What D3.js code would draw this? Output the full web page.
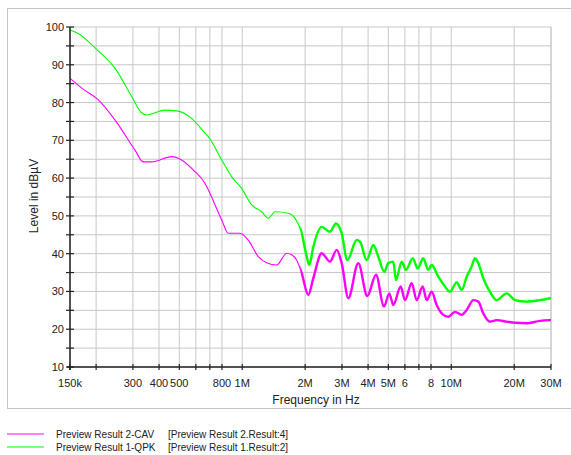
<!DOCTYPE html>
<html>
<head>
<meta charset="utf-8">
<script src="https://cdn.jsdelivr.net/npm/d3@7"></script>
<style>
  body { margin: 0; background: #fff; }
  text { font-family: "Liberation Sans", Arial, sans-serif; fill: #222; }
</style>
</head>
<body>
<div id="chart"></div>
<script>
const FRAME_WIDTH = 571;
const FRAME_HEIGHT = 455;
const PLOT = { left: 70, right: 551, top: 27, bottom: 367 };

// frequencies in MHz, levels in dBuV
const qpkFreq = [0.150, 0.164, 0.201, 0.246, 0.296, 0.330, 0.349, 0.427, 0.486, 0.573,
  0.664, 0.688, 0.798, 0.890, 0.994, 1.110, 1.239, 1.332, 1.435, 1.661, 1.788, 1.926,
  2.035, 2.094, 2.188, 2.399, 2.629, 2.809, 2.991, 3.181, 3.528, 3.659, 3.939, 4.236,
  4.476, 4.782, 4.997, 5.280, 5.439, 5.791, 6.072, 6.538, 6.908, 7.347, 7.763, 8.059,
  8.667, 9.332, 9.858, 10.62, 11.22, 11.85, 12.52, 12.98, 13.47, 14.23, 15.32, 16.49,
  18.41, 20.18, 22.94, 26.58, 30.0];
const qpkLevel = [99.2, 98.3, 94.1, 89.1, 81.6, 77.3, 76.7, 78.0, 77.8, 75.8,
  71.9, 71.0, 64.8, 60.4, 57.3, 52.9, 51.1, 49.4, 51.1, 50.7, 49.4, 45.4,
  39.2, 37.0, 41.8, 47.1, 45.8, 48.0, 45.4, 38.3, 43.6, 43.2, 38.3, 42.3,
  39.2, 35.2, 37.5, 37.9, 33.0, 37.9, 35.7, 38.8, 36.1, 38.8, 35.7, 37.0,
  33.9, 31.3, 29.9, 32.4, 30.4, 33.9, 36.6, 38.8, 37.5, 33.5, 29.9, 27.7,
  29.5, 27.7, 27.3, 27.7, 28.2];

const cavFreq = [0.150, 0.174, 0.205, 0.246, 0.307, 0.336, 0.369, 0.460, 0.513, 0.594,
  0.664, 0.688, 0.798, 0.858, 0.976, 1.069, 1.194, 1.309, 1.462, 1.632, 1.724, 1.821,
  1.926, 2.070, 2.188, 2.399, 2.629, 2.831, 2.991, 3.217, 3.591, 3.966, 4.365, 4.766,
  5.052, 5.280, 5.728, 6.006, 6.467, 6.833, 7.299, 7.628, 8.059, 8.514, 9.159, 9.680,
  10.42, 11.22, 11.85, 12.75, 13.47, 14.23, 15.32, 16.49, 18.41, 20.18, 22.94, 26.58, 30.0];
const cavLevel = [86.4, 83.5, 80.7, 75.4, 67.4, 64.3, 64.3, 65.7, 64.8, 61.7,
  58.6, 56.9, 48.9, 45.4, 45.4, 43.6, 39.2, 37.6, 37.0, 40.1, 39.7, 38.3,
  34.8, 29.1, 33.5, 40.1, 37.9, 41.0, 37.5, 28.2, 37.5, 28.8, 34.4, 26.0,
  29.5, 26.4, 31.3, 27.7, 32.2, 27.7, 31.3, 27.7, 29.9, 26.4, 23.8, 23.3,
  24.6, 23.8, 25.1, 27.7, 27.3, 24.2, 22.0, 22.4, 22.0, 21.7, 21.6, 22.2, 22.4];

const xTicks = [0.15, 0.2, 0.3, 0.4, 0.5, 0.6, 0.7, 0.8, 1, 2, 3, 4, 5, 6, 7, 8, 10, 20, 30];
const xTickLabels = ["150k", "", "300", "400", "500", "", "", "800", "1M", "2M", "3M",
  "4M", "5M", "6", "", "8", "10M", "20M", "30M"];
const yMajor = [10, 20, 30, 40, 50, 60, 70, 80, 90, 100];
const yMinor = [15, 25, 35, 45, 55, 65, 75, 85, 95];

const legendNames = ["Preview Result 2-CAV", "Preview Result 1-QPK"];
const legendRefs = ["[Preview Result 2.Result:4]", "[Preview Result 1.Result:2]"];
const legendColors = ["#ff00ff", "#00ff00"];

const svg = d3.select("#chart")
  .append("svg")
  .attr("width", FRAME_WIDTH)
  .attr("height", FRAME_HEIGHT);

const X_SCALE = d3.scaleLog()
  .domain([0.15, 30])
  .range([PLOT.left, PLOT.right]);

const Y_SCALE = d3.scaleLinear()
  .domain([10, 100])
  .range([PLOT.bottom, PLOT.top]);

// outer frame
svg.append("rect")
  .attr("x", 7.5).attr("y", 8.5)
  .attr("width", 570).attr("height", 400)
  .attr("fill", "none")
  .attr("stroke", "#c4c4c4");

// grid
const grid = svg.append("g").attr("stroke", "#c8c8c8").attr("stroke-width", 1);
grid.selectAll(".vg")
  .data(xTicks.concat([30]))
  .enter().append("line")
  .attr("x1", d => X_SCALE(d)).attr("x2", d => X_SCALE(d))
  .attr("y1", PLOT.top).attr("y2", PLOT.bottom);
grid.selectAll(".hg")
  .data(yMajor.concat(yMinor))
  .enter().append("line")
  .attr("x1", PLOT.left).attr("x2", PLOT.right)
  .attr("y1", d => Y_SCALE(d)).attr("y2", d => Y_SCALE(d));

// curves
const line = d3.line()
  .x(d => X_SCALE(d[0]))
  .y(d => Y_SCALE(d[1]))
  .curve(d3.curveMonotoneX);

const qpkData = d3.zip(qpkFreq, qpkLevel);
const cavData = d3.zip(cavFreq, cavLevel);

svg.append("clipPath").attr("id", "noisy")
  .append("rect")
  .attr("x", X_SCALE(1.9)).attr("y", PLOT.top)
  .attr("width", PLOT.right - X_SCALE(1.9)).attr("height", PLOT.bottom - PLOT.top);

[[cavData, legendColors[0]], [qpkData, legendColors[1]]].forEach(([data, color]) => {
  svg.append("path")
    .datum(data)
    .attr("d", line)
    .attr("fill", "none")
    .attr("stroke", color)
    .attr("stroke-width", 1.1);
  // measured noise makes the trace look thicker at high frequencies
  svg.append("path")
    .datum(data)
    .attr("d", line)
    .attr("clip-path", "url(#noisy)")
    .attr("fill", "none")
    .attr("stroke", color)
    .attr("stroke-width", 2.4);
});

// axes
const axisColor = "#222";
svg.append("line")
  .attr("x1", PLOT.left).attr("x2", PLOT.left)
  .attr("y1", PLOT.top).attr("y2", PLOT.bottom + 3)
  .attr("stroke", axisColor).attr("stroke-width", 1.5);
svg.append("line")
  .attr("x1", PLOT.left - 3).attr("x2", PLOT.right)
  .attr("y1", PLOT.bottom).attr("y2", PLOT.bottom)
  .attr("stroke", axisColor).attr("stroke-width", 1.5);

svg.selectAll(".yt")
  .data(yMajor.concat(yMinor))
  .enter().append("line")
  .attr("x1", PLOT.left - 4).attr("x2", PLOT.left + 4)
  .attr("y1", d => Y_SCALE(d)).attr("y2", d => Y_SCALE(d))
  .attr("stroke", axisColor).attr("stroke-width", 1.2);

svg.selectAll(".xt")
  .data(xTicks)
  .enter().append("line")
  .attr("x1", d => X_SCALE(d)).attr("x2", d => X_SCALE(d))
  .attr("y1", PLOT.bottom - 3).attr("y2", PLOT.bottom + 3)
  .attr("stroke", axisColor).attr("stroke-width", 1.2);

svg.selectAll(".yl")
  .data(yMajor)
  .enter().append("text")
  .attr("x", PLOT.left - 6)
  .attr("y", d => Y_SCALE(d) + 4)
  .attr("text-anchor", "end")
  .attr("font-size", "11px")
  .text(d => d);

svg.selectAll(".xl")
  .data(xTicks)
  .enter().append("text")
  .attr("x", d => X_SCALE(d))
  .attr("y", 387)
  .attr("text-anchor", "middle")
  .attr("font-size", "11px")
  .text((d, i) => xTickLabels[i]);

svg.append("text")
  .attr("x", 316).attr("y", 404)
  .attr("text-anchor", "middle")
  .attr("font-size", "12px")
  .text("Frequency in Hz");

svg.append("text")
  .attr("transform", "translate(38,196) rotate(-90)")
  .attr("text-anchor", "middle")
  .attr("font-size", "12px")
  .text("Level in dBµV");

// legend
legendNames.forEach((name, i) => {
  const y = 434 + i * 13;
  svg.append("line")
    .attr("x1", 7).attr("x2", 44)
    .attr("y1", y).attr("y2", y)
    .attr("stroke", legendColors[i]).attr("stroke-width", 1.2);
  svg.append("text")
    .attr("x", 56).attr("y", y + 3.5)
    .attr("font-size", "10px")
    .text(name);
  svg.append("text")
    .attr("x", 168).attr("y", y + 3.5)
    .attr("font-size", "10px")
    .text(legendRefs[i]);
});
</script>
</body>
</html>
